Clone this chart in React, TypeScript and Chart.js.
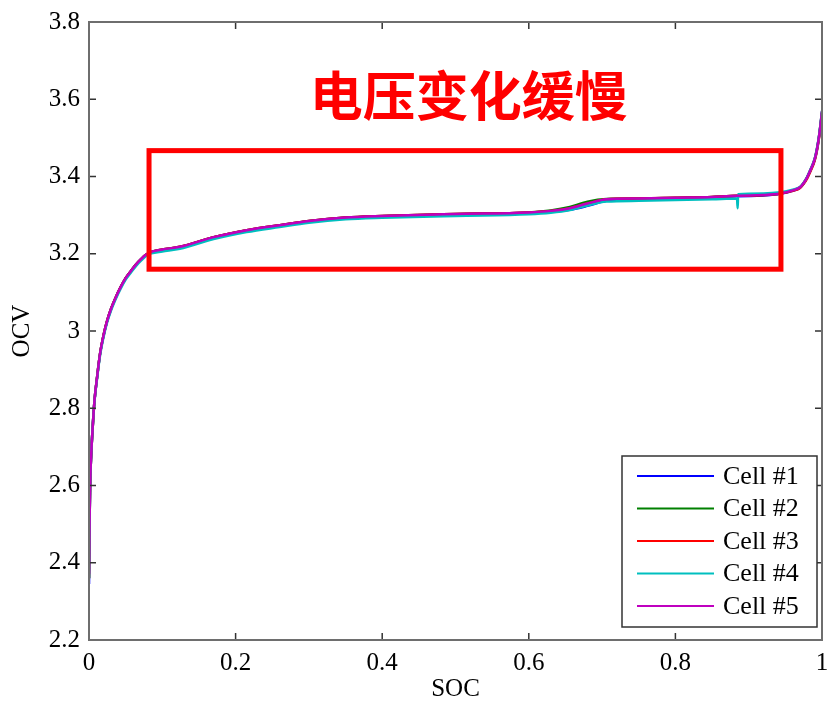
import React, { useEffect, useRef } from "react";
import { Chart, registerables } from "chart.js";

Chart.register(...registerables);

const soc = [0, 0.0005, 0.0015, 0.003, 0.005, 0.0075, 0.011, 0.015, 0.02, 0.025, 0.03, 0.036, 0.043, 0.05, 0.057, 0.064, 0.071, 0.078, 0.085, 0.1, 0.124, 0.17, 0.215, 0.26, 0.3, 0.35, 0.4, 0.5, 0.6, 0.63, 0.656, 0.68, 0.706, 0.75, 0.8, 0.85, 0.884, 0.885, 0.8855, 0.92, 0.943, 0.96, 0.97, 0.975, 0.98, 0.984, 0.99, 0.993, 0.996, 0.998, 1.0];

const cell1 = [2.345, 2.47, 2.6, 2.68, 2.75, 2.82, 2.88, 2.94, 2.99, 3.028, 3.057, 3.085, 3.113, 3.137, 3.155, 3.172, 3.186, 3.197, 3.204, 3.21, 3.217, 3.242, 3.26, 3.273, 3.284, 3.293, 3.297, 3.302, 3.306, 3.309, 3.314, 3.324, 3.337, 3.342, 3.344, 3.346, 3.349, 3.349, 3.349, 3.351, 3.355, 3.363, 3.371, 3.382, 3.398, 3.414, 3.443, 3.468, 3.503, 3.533, 3.565];
const cell2 = [2.36, 2.47, 2.6, 2.68, 2.75, 2.82, 2.88, 2.94, 2.99, 3.028, 3.057, 3.085, 3.113, 3.137, 3.155, 3.172, 3.186, 3.198, 3.205, 3.211, 3.218, 3.243, 3.261, 3.274, 3.285, 3.294, 3.298, 3.303, 3.307, 3.312, 3.321, 3.335, 3.342, 3.343, 3.345, 3.347, 3.35, 3.35, 3.35, 3.352, 3.356, 3.364, 3.372, 3.383, 3.399, 3.416, 3.445, 3.47, 3.505, 3.535, 3.567];
const cell3 = [2.36, 2.47, 2.6, 2.68, 2.75, 2.82, 2.88, 2.94, 2.99, 3.028, 3.057, 3.085, 3.113, 3.137, 3.155, 3.172, 3.186, 3.198, 3.205, 3.211, 3.218, 3.243, 3.261, 3.274, 3.285, 3.294, 3.298, 3.303, 3.307, 3.311, 3.318, 3.33, 3.341, 3.343, 3.345, 3.347, 3.35, 3.35, 3.35, 3.352, 3.356, 3.363, 3.37, 3.381, 3.396, 3.412, 3.441, 3.466, 3.5, 3.53, 3.565];
const cell4 = [2.36, 2.47, 2.6, 2.68, 2.75, 2.818, 2.877, 2.936, 2.986, 3.024, 3.053, 3.081, 3.109, 3.133, 3.151, 3.168, 3.182, 3.194, 3.201, 3.206, 3.213, 3.238, 3.256, 3.269, 3.28, 3.289, 3.293, 3.298, 3.302, 3.306, 3.313, 3.325, 3.335, 3.337, 3.339, 3.341, 3.343, 3.318, 3.354, 3.356, 3.359, 3.366, 3.373, 3.384, 3.4, 3.417, 3.446, 3.471, 3.506, 3.536, 3.57];
const cell5 = [2.37, 2.47, 2.6, 2.68, 2.75, 2.82, 2.88, 2.94, 2.99, 3.028, 3.057, 3.085, 3.113, 3.137, 3.155, 3.172, 3.186, 3.198, 3.205, 3.211, 3.218, 3.243, 3.261, 3.274, 3.285, 3.294, 3.298, 3.303, 3.307, 3.311, 3.318, 3.33, 3.341, 3.343, 3.345, 3.347, 3.35, 3.35, 3.35, 3.352, 3.356, 3.364, 3.372, 3.383, 3.399, 3.416, 3.445, 3.47, 3.505, 3.535, 3.57];

const cellLabels = ["Cell #1", "Cell #2", "Cell #3", "Cell #4", "Cell #5"];
const cellColors = ["#0000ff", "#008000", "#ff0000", "#00bfbf", "#bf00bf"];
const cellValues = [cell1, cell2, cell3, cell4, cell5];

const xTicks = [0, 0.2, 0.4, 0.6, 0.8, 1];
const xTickLabels = ["0", "0.2", "0.4", "0.6", "0.8", "1"];
const yTicks = [2.2, 2.4, 2.6, 2.8, 3, 3.2, 3.4, 3.6, 3.8];
const yTickLabels = ["2.2", "2.4", "2.6", "2.8", "3", "3.2", "3.4", "3.6", "3.8"];

const boxRegion = { x0: 0.0819, x1: 0.944, y0: 3.16, y1: 3.467 };
const annotationText = "电压变化缓慢";
const annotationPos = { x: 0.518, y: 3.61 };

const SERIF = "'Liberation Serif', 'Times New Roman', serif";

const framePlugin = {
  id: "frameTicks",
  afterDatasetsDraw(chart: any) {
    const { ctx, chartArea, scales } = chart;
    const xs = scales.x;
    const ys = scales.y;
    ctx.save();
    ctx.strokeStyle = "#333";
    ctx.lineWidth = 1.5;
    const tl = 7;
    ctx.beginPath();
    xTicks.forEach((v) => {
      const px = xs.getPixelForValue(v);
      ctx.moveTo(px, chartArea.bottom);
      ctx.lineTo(px, chartArea.bottom - tl);
      ctx.moveTo(px, chartArea.top);
      ctx.lineTo(px, chartArea.top + tl);
    });
    yTicks.forEach((v) => {
      const py = ys.getPixelForValue(v);
      ctx.moveTo(chartArea.left, py);
      ctx.lineTo(chartArea.left + tl, py);
      ctx.moveTo(chartArea.right, py);
      ctx.lineTo(chartArea.right - tl, py);
    });
    ctx.stroke();
    ctx.strokeStyle = "#6e6e6e";
    ctx.lineWidth = 2;
    ctx.strokeRect(chartArea.left, chartArea.top, chartArea.right - chartArea.left, chartArea.bottom - chartArea.top);

    const bx0 = xs.getPixelForValue(boxRegion.x0);
    const bx1 = xs.getPixelForValue(boxRegion.x1);
    const by0 = ys.getPixelForValue(boxRegion.y1);
    const by1 = ys.getPixelForValue(boxRegion.y0);
    ctx.strokeStyle = "#ff0000";
    ctx.lineWidth = 5;
    ctx.strokeRect(bx0, by0, bx1 - bx0, by1 - by0);

    ctx.fillStyle = "#ff0000";
    ctx.font = "bold 53px 'Noto Sans CJK SC', sans-serif";
    ctx.textAlign = "center";
    ctx.textBaseline = "middle";
    ctx.fillText(annotationText, xs.getPixelForValue(annotationPos.x), ys.getPixelForValue(annotationPos.y));

    const lw = 195;
    const lh = 171;
    const lx = chartArea.right - 5 - lw;
    const ly = chartArea.bottom - 13 - lh;
    ctx.fillStyle = "#ffffff";
    ctx.fillRect(lx, ly, lw, lh);
    ctx.strokeStyle = "#333";
    ctx.lineWidth = 1.5;
    ctx.strokeRect(lx, ly, lw, lh);
    ctx.font = "26px " + SERIF;
    ctx.textAlign = "left";
    ctx.textBaseline = "middle";
    cellLabels.forEach((label, i) => {
      const yy = ly + 20 + i * 32.5;
      ctx.strokeStyle = cellColors[i];
      ctx.lineWidth = 2.2;
      ctx.beginPath();
      ctx.moveTo(lx + 15, yy);
      ctx.lineTo(lx + 92, yy);
      ctx.stroke();
      ctx.fillStyle = "#000";
      ctx.fillText(label, lx + 101, yy + 1);
    });
    ctx.restore();
  },
};

export default function App() {
  const ref = useRef<HTMLCanvasElement | null>(null);
  useEffect(() => {
    document.body.style.margin = "0";
    const canvas = ref.current;
    if (!canvas) return;
    const datasets = cellValues.map((vals, i) => ({
      label: cellLabels[i],
      data: soc.map((x, j) => ({ x, y: vals[j] })),
      borderColor: cellColors[i],
      backgroundColor: cellColors[i],
      borderWidth: 2.5,
      pointRadius: 0,
      fill: false,
      order: cellValues.length - i,
      cubicInterpolationMode: "monotone" as const,
    }));
    const chart = new Chart(canvas, {
      type: "line",
      data: { datasets },
      options: {
        responsive: false,
        animation: false,
        layout: { padding: { left: 0, right: 5, top: 22, bottom: 0 } },
        plugins: { legend: { display: false }, tooltip: { enabled: false } },
        scales: {
          x: {
            type: "linear",
            min: 0,
            max: 1,
            grid: { display: false, drawTicks: false },
            border: { display: false },
            afterBuildTicks: (s: any) => {
              s.ticks = xTicks.map((v) => ({ value: v }));
            },
            afterFit: (s: any) => {
              s.height = 66;
              s.paddingLeft = 0;
              s.paddingRight = 0;
            },
            ticks: {
              padding: 8,
              color: "#000",
              font: { family: SERIF, size: 25 },
              maxRotation: 0,
              callback: (v: any) => {
                const i = xTicks.findIndex((t) => Math.abs(t - Number(v)) < 1e-9);
                return i >= 0 ? xTickLabels[i] : "";
              },
            },
            title: {
              display: true,
              text: "SOC",
              color: "#000",
              font: { family: SERIF, size: 25 },
              padding: { top: 0, bottom: 2 },
            },
          },
          y: {
            type: "linear",
            min: 2.2,
            max: 3.8,
            grid: { display: false, drawTicks: false },
            border: { display: false },
            afterBuildTicks: (s: any) => {
              s.ticks = yTicks.map((v) => ({ value: v }));
            },
            afterFit: (s: any) => {
              s.width = 89;
              s.paddingTop = 0;
              s.paddingBottom = 0;
            },
            ticks: {
              padding: 9,
              color: "#000",
              font: { family: SERIF, size: 25 },
              callback: (v: any) => {
                const i = yTicks.findIndex((t) => Math.abs(t - Number(v)) < 1e-9);
                return i >= 0 ? yTickLabels[i] : "";
              },
            },
            title: {
              display: true,
              text: "OCV",
              color: "#000",
              font: { family: SERIF, size: 25 },
              padding: { top: 7, bottom: 0 },
            },
          },
        },
      },
      plugins: [framePlugin],
    });
    return () => chart.destroy();
  }, []);
  return (
    <div style={{ width: 827, height: 706, background: "#fff" }}>
      <canvas ref={ref} width={827} height={706} />
    </div>
  );
}
